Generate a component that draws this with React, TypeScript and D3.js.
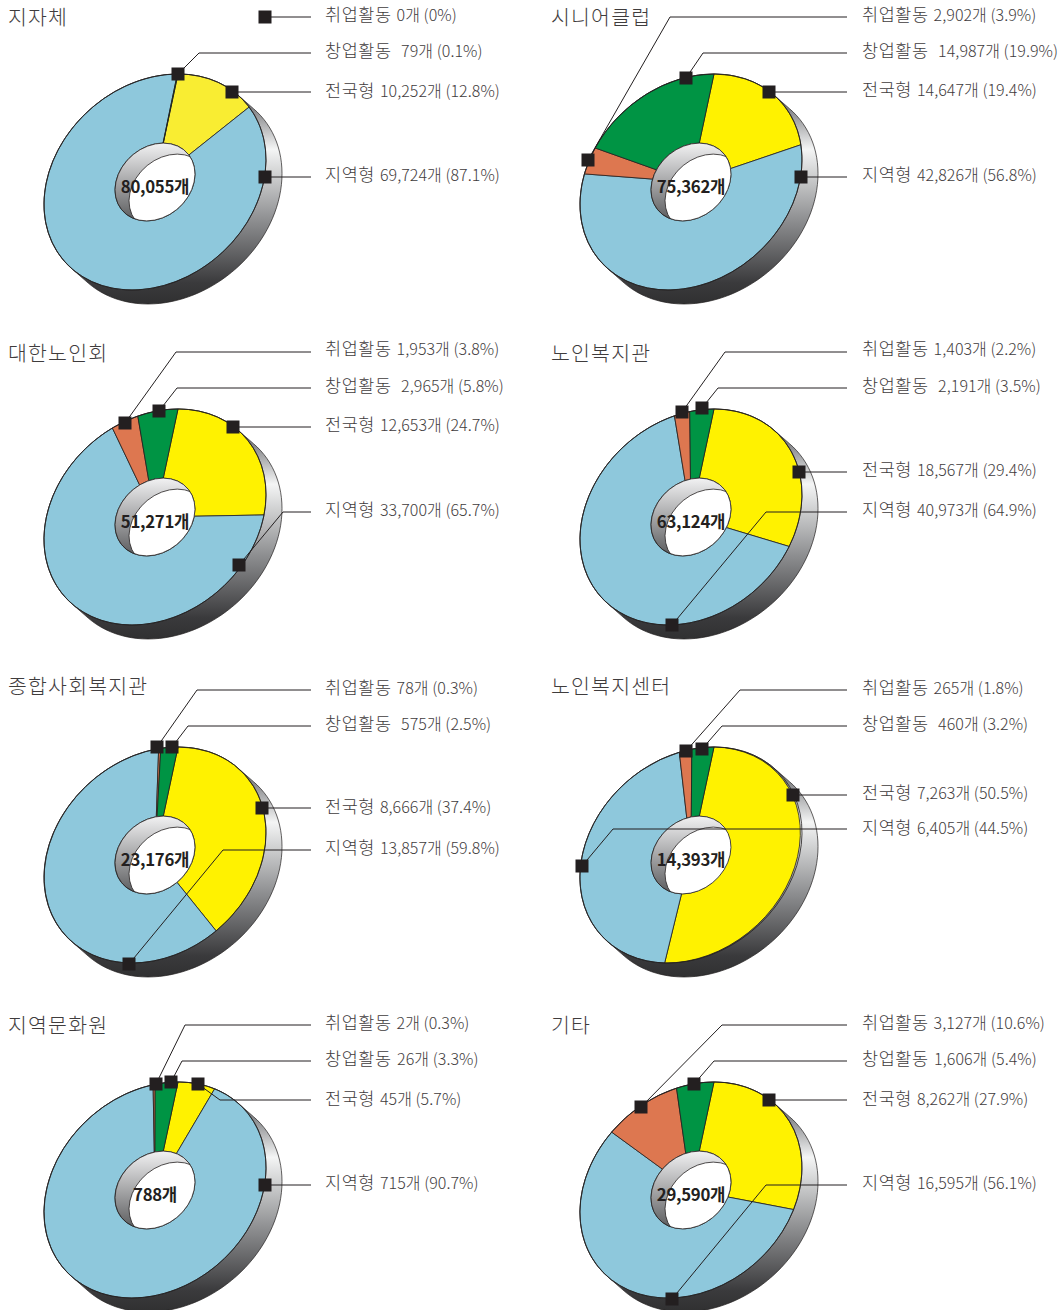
import * as d3 from "d3";

// values, in panel order
const panelNames = ["지자체", "시니어클럽", "대한노인회", "노인복지관", "종합사회복지관", "노인복지센터", "지역문화원", "기타"];
const totals = ["80,055", "75,362", "51,271", "63,124", "23,176", "14,393", "788", "29,590"];

const jobCounts = ["0", "2,902", "1,953", "1,403", "78", "265", "2", "3,127"];
const jobPct = [0, 3.9, 3.8, 2.2, 0.3, 1.8, 0.3, 10.6];
const startupCounts = ["79", "14,987", "2,965", "2,191", "575", "460", "26", "1,606"];
const startupPct = [0.1, 19.9, 5.8, 3.5, 2.5, 3.2, 3.3, 5.4];
const nationalCounts = ["10,252", "14,647", "12,653", "18,567", "8,666", "7,263", "45", "8,262"];
const nationalPct = [12.8, 19.4, 24.7, 29.4, 37.4, 50.5, 5.7, 27.9];
const regionalCounts = ["69,724", "42,826", "33,700", "40,973", "13,857", "6,405", "715", "16,595"];
const regionalPct = [87.1, 56.8, 65.7, 64.9, 59.8, 44.5, 90.7, 56.1];

const seriesNames = ["취업활동", "창업활동", "전국형", "지역형"];
// 창업활동 has a wider gap before the number in most panels
const startupGap = [9.5, 9.5, 9.5, 9.5, 9.5, 9.5, 5.5, 5.5];

// layout of the panels
const panelX = [155, 691];
const panelY = [182, 517, 855, 1190];
const titleY = [17, 353, 686, 1025];
const titleX = [8, 551];
const labelX = [325, 862];
const lineEndX = [311, 847];

// label text centre for each series [job, startup, national, regional]
const labelYs = [
  [15, 51, 91, 175],
  [15, 51, 90, 175],
  [349, 386, 425, 510],
  [349, 386, 470, 510],
  [688, 724, 807, 848],
  [688, 724, 793, 828],
  [1023, 1059, 1099, 1183],
  [1023, 1059, 1099, 1183],
];

// callouts: marker centre, optional elbow, y where the leader runs out to the label
type Callout = { m: [number, number]; via?: [number, number] };
const callouts: Callout[][] = [
  [{ m: [265, 17] }, { m: [178, 74], via: [199, 53] }, { m: [232, 92] }, { m: [265, 177] }],
  [{ m: [588, 160], via: [670, 17] }, { m: [686, 78], via: [703, 53] }, { m: [769, 92] }, { m: [801, 177] }],
  [{ m: [125, 423], via: [176, 352] }, { m: [159, 411], via: [177, 388] }, { m: [233, 427] }, { m: [239, 565], via: [283, 512] }],
  [{ m: [682, 412], via: [725, 352] }, { m: [702, 408], via: [718, 388] }, { m: [799, 472] }, { m: [672, 625], via: [766, 512] }],
  [{ m: [157, 747], via: [197, 690] }, { m: [172, 747], via: [188, 726] }, { m: [262, 808] }, { m: [129, 964], via: [223, 850] }],
  [{ m: [686, 751], via: [740, 690] }, { m: [702, 749], via: [722, 726] }, { m: [793, 795] }, { m: [582, 866], via: [613, 829] }],
  [{ m: [156, 1084], via: [185, 1025] }, { m: [171, 1082], via: [182, 1061] }, { m: [198, 1084], via: [220, 1100] }, { m: [265, 1185] }],
  [{ m: [641, 1107], via: [722, 1025] }, { m: [694, 1084], via: [714, 1061] }, { m: [769, 1100] }, { m: [672, 1299], via: [766, 1185] }],
];

const BLUE = "#8ec8dc";
const YELLOW = "#fff200";
const YELLOW_FIRST = "#f9ed32";
const GREEN = "#009444";
const ORANGE = "#dd7750";
const INK = "#231f20";
const TEXT = "#3f3c3d";
const FONT = "'Noto Sans CJK KR', 'Noto Sans', sans-serif";

// tilted ellipse: unit circle -> page. top of the circle goes to (23,-108), right goes to (108.6,0)
const M = { a: 108.6, b: 0, c: -23, d: 108 };
const project = (x: number, y: number): [number, number] => [M.a * x + M.c * y, M.b * x + M.d * y];
const DEPTH: [number, number] = [16, 14];
const HOLE_R = 0.36;
const HOLE_DEPTH: [number, number] = [14, 11];

const circlePts = d3.range(0, 360, 3).map((deg) => {
  const t = (deg * Math.PI) / 180;
  return project(Math.sin(t), -Math.cos(t));
});
const hull = d3.polygonHull([...circlePts, ...circlePts.map(([x, y]): [number, number] => [x + DEPTH[0], y + DEPTH[1]])])!;
const hullPath = d3.line()(hull) + "Z";

const unitCircle = d3.arc()({ innerRadius: 0, outerRadius: 1, startAngle: 0, endAngle: Math.PI * 2 } as any)!;
const holeCircle = d3.arc()({ innerRadius: 0, outerRadius: HOLE_R, startAngle: 0, endAngle: Math.PI * 2 } as any)!;
const sliceArc = d3.arc<d3.PieArcDatum<number>>().innerRadius(HOLE_R).outerRadius(1);
const pie = d3.pie<number>().sort(null).startAngle(0).endAngle(Math.PI * 2);

function Panel({ i }: { i: number }) {
  const col = i % 2;
  const row = Math.floor(i / 2);
  const cx = panelX[col];
  const cy = panelY[row];
  // clockwise from 12 o'clock: national, regional, job, startup
  const values = [nationalPct[i], regionalPct[i], jobPct[i], startupPct[i]];
  const colors = [i === 0 ? YELLOW_FIRST : YELLOW, BLUE, ORANGE, GREEN];
  const counts = [jobCounts[i], startupCounts[i], nationalCounts[i], regionalCounts[i]];
  const pcts = [jobPct[i], startupPct[i], nationalPct[i], regionalPct[i]];
  const transform = `matrix(${M.a},${M.b},${M.c},${M.d},0,0)`;

  return (
    <g>
      <text x={titleX[col]} y={titleY[row] + 1} dy="0.36em" fontSize={20.5} fill={TEXT} fontFamily={FONT} fontWeight={300} letterSpacing={1.2}>
        {panelNames[i]}
      </text>
      <g transform={`translate(${cx},${cy})`}>
        {/* extruded side */}
        <path d={hullPath} fill="url(#wall)" stroke={INK} strokeWidth={0.7} />
        {/* top face */}
        <g transform={transform}>
          {pie(values).map((d, k) =>
            d.value > 0 ? (
              <path key={k} d={sliceArc(d)!} fill={colors[k]} stroke={INK} strokeWidth={0.8} vectorEffect="non-scaling-stroke" />
            ) : null
          )}
          <path d={unitCircle} fill="none" stroke={INK} strokeWidth={0.8} vectorEffect="non-scaling-stroke" />
        </g>
        {/* hole: inner wall then the white see-through part */}
        <clipPath id={`hole-${i}`}>
          <path d={holeCircle} transform={transform} />
        </clipPath>
        <path d={holeCircle} transform={transform} fill="url(#holeWall)" />
        <g clipPath={`url(#hole-${i})`}>
          <g transform={`translate(${HOLE_DEPTH[0]},${HOLE_DEPTH[1]})`}>
            <path d={holeCircle} transform={transform} fill="#fff" stroke={INK} strokeWidth={0.8} vectorEffect="non-scaling-stroke" />
          </g>
        </g>
        <path d={holeCircle} transform={transform} fill="none" stroke={INK} strokeWidth={0.8} vectorEffect="non-scaling-stroke" />
        <text x={0} y={5} dy="0.36em" textAnchor="middle" fontSize={16.8} fontWeight={700} fill={INK} fontFamily={FONT} letterSpacing={-0.3}>
          {totals[i]}개
        </text>
      </g>
      {seriesNames.map((name, k) => {
        const c = callouts[i][k];
        const y = c.via ? c.via[1] : c.m[1];
        const pts: [number, number][] = c.via ? [c.m, c.via, [lineEndX[col], y]] : [c.m, [lineEndX[col], y]];
        return (
          <g key={name}>
            <path d={d3.line()(pts)!} fill="none" stroke={INK} strokeWidth={1} />
            <rect x={c.m[0] - 6.5} y={c.m[1] - 6.5} width={13} height={13} fill={INK} />
            <text x={labelX[col]} y={labelYs[i][k]} dy="0.36em" fill={TEXT} fontFamily={FONT} fontWeight={300}>
              <tspan fontSize={17.5} letterSpacing={0.55}>{name}</tspan>
              <tspan fontSize={16} letterSpacing={0.05} dx={k === 1 ? startupGap[i] : 5}>
                {`${counts[k]}개 (${pcts[k]}%)`}
              </tspan>
            </text>
          </g>
        );
      })}
    </g>
  );
}

export default function App() {
  return (
    <svg width={1059} height={1310} style={{ position: "absolute", left: 0, top: 0, background: "#fff" }}>
      <defs>
        <linearGradient id="wall" x1="0" x2="0" y1="-90" y2="122" gradientUnits="userSpaceOnUse">
          <stop offset="0" stopColor="#55565a" />
          <stop offset="0.27" stopColor="#f4f5f5" />
          <stop offset="0.6" stopColor="#8f9092" />
          <stop offset="0.9" stopColor="#3a3a3c" />
          <stop offset="1" stopColor="#303031" />
        </linearGradient>
        {/* the hole is drawn in unit-circle space, so these are unit coordinates */}
        <linearGradient id="holeWall" x1="0" x2="0" y1="-0.37" y2="0.37" gradientUnits="userSpaceOnUse">
          <stop offset="0" stopColor="#f4f4f5" />
          <stop offset="1" stopColor="#58595b" />
        </linearGradient>
      </defs>
      {panelNames.map((_, i) => (
        <Panel key={i} i={i} />
      ))}
    </svg>
  );
}
